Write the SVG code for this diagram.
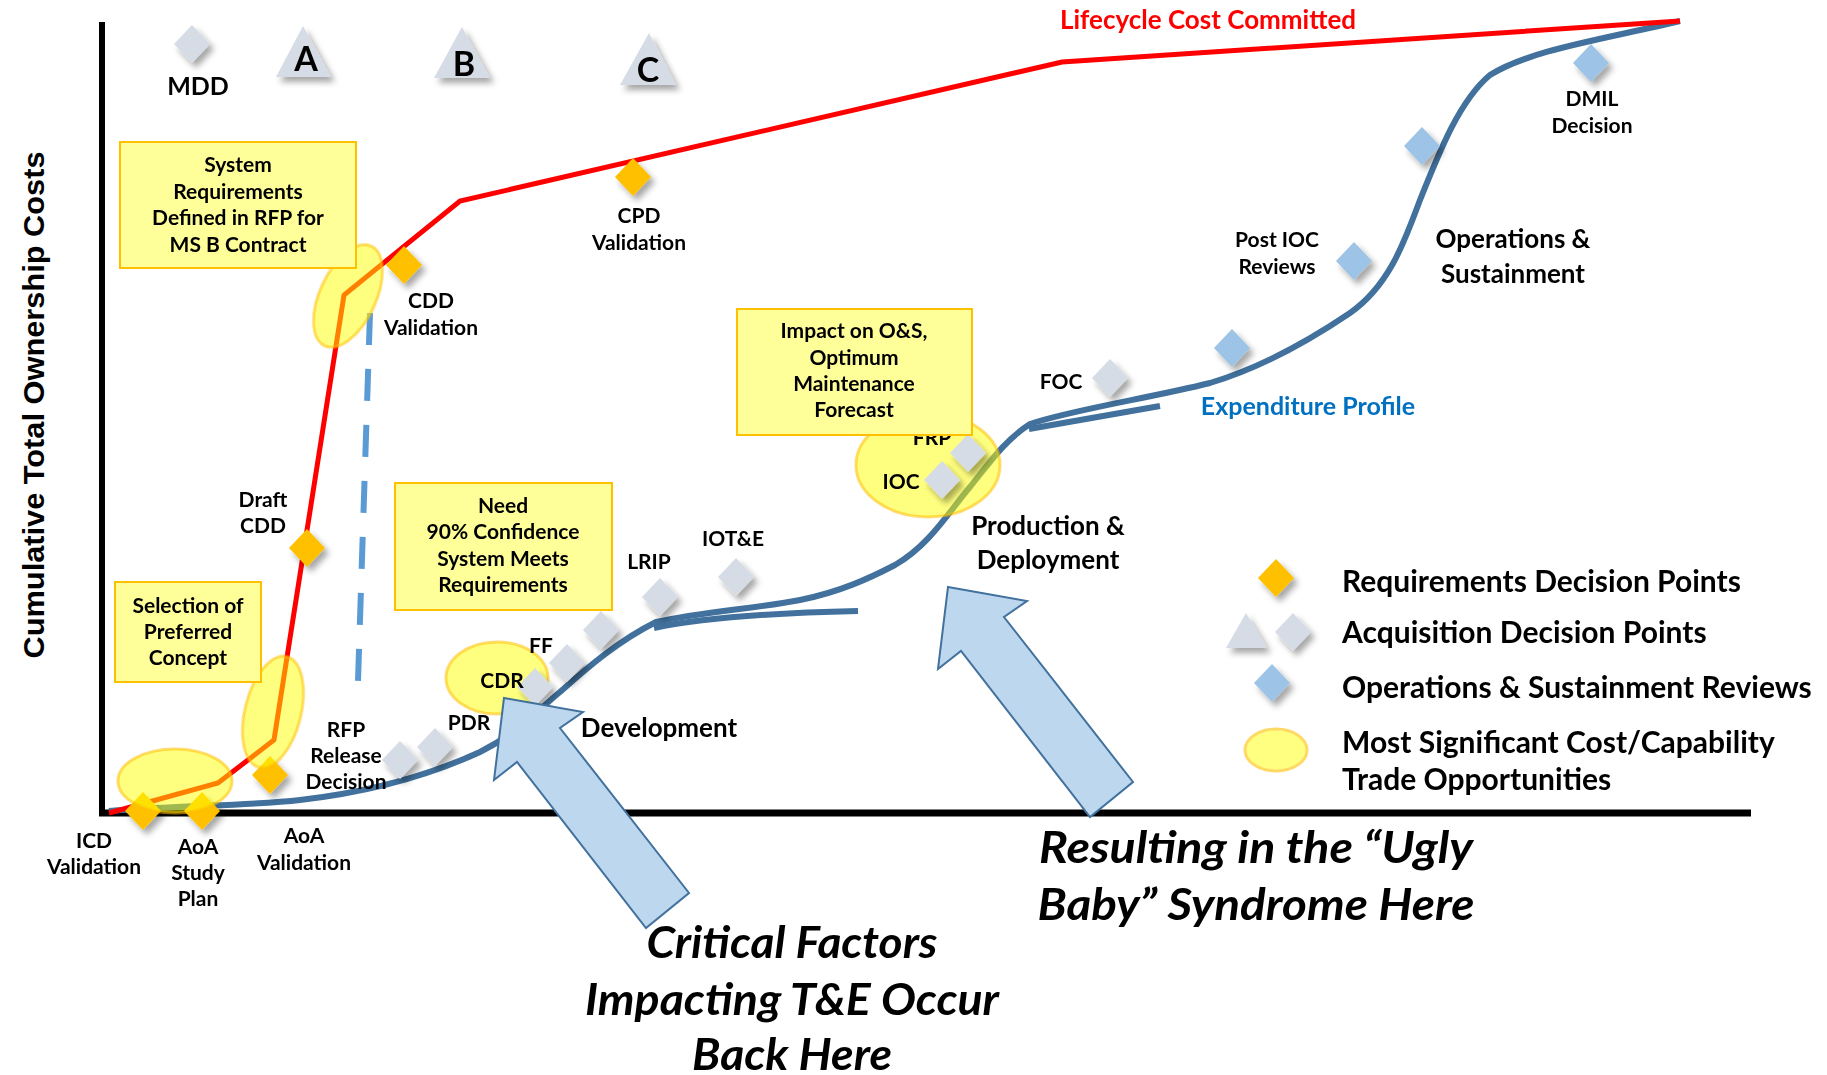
<svg xmlns="http://www.w3.org/2000/svg" width="1827" height="1075" viewBox="0 0 1827 1075">
<style>
.t{font-family:Lato,"Liberation Sans",sans-serif;font-weight:bold;fill:#000;text-anchor:middle}
.s{font-size:21px}
.m{font-size:26px}
.lg{font-size:30px;text-anchor:start}
.big{font-size:44px;font-style:italic}
.box{fill:#FFFF99;stroke:#FFC000;stroke-width:2}
.ell{fill:#FFFF00;fill-opacity:0.5;stroke:#FFC000;stroke-opacity:0.55;stroke-width:3}
.req{fill:#FFC000}
.acq{fill:#D6DCE5}
.os{fill:#9DC3E6}
.arrow{fill:#BDD7EE;stroke:#41719C;stroke-width:2;stroke-linejoin:miter}
.blue{fill:none;stroke:#41719C;stroke-width:6}
</style>
<defs>
<filter id="sh" x="-50%" y="-50%" width="220%" height="220%">
<feDropShadow dx="4" dy="5" stdDeviation="3" flood-color="#000" flood-opacity="0.35"/>
</filter>
<path id="dia" d="M0,-19 L18,0 L0,19 L-18,0 Z"/>
<polygon id="arw" points="504,698 583,712 560,728 689,893 646,928 517,762 494,780"/>
</defs>
<rect width="1827" height="1075" fill="#fff"/>

<g id="axes">
<line x1="102" y1="22" x2="102" y2="816" stroke="#000" stroke-width="6"/>
<line x1="99" y1="813" x2="1751" y2="813" stroke="#000" stroke-width="7"/>
<text transform="translate(44,405) rotate(-90)" style="font-family:'Liberation Sans',Arial,sans-serif;font-weight:bold;font-size:30px;text-anchor:middle" textLength="507" lengthAdjust="spacingAndGlyphs">Cumulative Total Ownership Costs</text>
</g>

<g id="connectors">
<path id="expenditure" class="blue" d="M109,811 C180,805 250,806 300,800 C370,792 430,775 480,752 C520,732 540,708 560,692 C590,665 620,640 656,622 C700,612 760,608 800,600 C840,592 870,578 895,565 C930,545 950,510 970,487 C990,462 1005,440 1030,424 C1070,410 1150,398 1210,383 C1260,368 1310,340 1350,313 C1390,285 1405,240 1420,200 C1440,150 1460,100 1490,75 C1530,50 1600,40 1680,21"/>
<path class="blue" d="M654,628 Q720,614 858,611"/>
<path class="blue" d="M1029,429 L1160,406"/>
<polyline id="lifecycle" fill="none" stroke="#FF0000" stroke-width="5" stroke-linejoin="miter" points="109,813 218,783 274,740 344,295 460,201 1062,62 1680,21"/>
<line id="dashed" x1="370" y1="313" x2="358" y2="681" stroke="#5B9BD5" stroke-width="6" stroke-dasharray="32 24"/>
</g>

<g id="opp-cdr"><ellipse class="ell" cx="497" cy="678" rx="51" ry="36"/></g>
<g id="opp-frp"><ellipse class="ell" cx="928" cy="465" rx="72" ry="52"/></g>

<g id="req-points" filter="url(#sh)">
<use href="#dia" class="req" x="143" y="811"/>
<use href="#dia" class="req" x="202" y="811"/>
<use href="#dia" class="req" x="270" y="775"/>
<use href="#dia" class="req" x="307" y="548"/>
<use href="#dia" class="req" x="404" y="265"/>
<use href="#dia" class="req" x="633" y="177"/>
</g>

<g id="opp-early">
<ellipse class="ell" cx="175" cy="781" rx="57" ry="32"/>
<ellipse class="ell" cx="273" cy="712" rx="28" ry="57" transform="rotate(14 273 712)"/>
<ellipse class="ell" cx="348" cy="296" rx="28" ry="55" transform="rotate(25 348 296)"/>
</g>

<g id="acq-points" filter="url(#sh)">
<use href="#dia" class="acq" x="192" y="44"/>
<polygon class="acq" points="303,26 276,77 331,77"/>
<polygon class="acq" points="462,27 434,78 490,78"/>
<polygon class="acq" points="649,33 620,85 676,85"/>
<use href="#dia" class="acq" x="400" y="760"/>
<use href="#dia" class="acq" x="435" y="747"/>
<use href="#dia" class="acq" x="535" y="687"/>
<use href="#dia" class="acq" x="567" y="663"/>
<use href="#dia" class="acq" x="601" y="630"/>
<use href="#dia" class="acq" x="660" y="597"/>
<use href="#dia" class="acq" x="736" y="577"/>
<use href="#dia" class="acq" x="968" y="453"/>
<use href="#dia" class="acq" x="942" y="480"/>
<use href="#dia" class="acq" x="1110" y="378"/>
</g>

<g id="os-points" filter="url(#sh)">
<use href="#dia" class="os" x="1232" y="348"/>
<use href="#dia" class="os" x="1354" y="261"/>
<use href="#dia" class="os" x="1422" y="146"/>
<use href="#dia" class="os" x="1591" y="63"/>
</g>

<g id="milestone-labels">
<text class="t" x="198" y="95" style="font-size:25px">MDD</text>
<text class="t" x="306" y="71" style="font-size:34px">A</text>
<text class="t" x="464" y="76" style="font-size:34px">B</text>
<text class="t" x="648" y="82" style="font-size:34px">C</text>
<text class="t" x="1208" y="29" style="font-size:26px;fill:#FF0000">Lifecycle Cost Committed</text>
<text class="t s" x="431" y="308">CDD</text>
<text class="t s" x="431" y="335">Validation</text>
<text class="t s" x="639" y="223">CPD</text>
<text class="t s" x="639" y="250">Validation</text>
<text class="t s" x="263" y="507">Draft</text>
<text class="t s" x="263" y="533">CDD</text>
<text class="t s" x="346" y="737">RFP</text>
<text class="t s" x="346" y="763">Release</text>
<text class="t s" x="346" y="789">Decision</text>
<text class="t s" x="469" y="730">PDR</text>
<text class="t s" x="502" y="688">CDR</text>
<text class="t s" x="541" y="653">FF</text>
<text class="t s" x="649" y="569">LRIP</text>
<text class="t s" x="733" y="546">IOT&amp;E</text>
<text class="t s" x="94" y="848">ICD</text>
<text class="t s" x="94" y="874">Validation</text>
<text class="t s" x="198" y="854">AoA</text>
<text class="t s" x="198" y="880">Study</text>
<text class="t s" x="198" y="906">Plan</text>
<text class="t s" x="304" y="843">AoA</text>
<text class="t s" x="304" y="870">Validation</text>
<text class="t s" x="932" y="445">FRP</text>
<text class="t s" x="901" y="489">IOC</text>
<text class="t s" x="1061" y="389">FOC</text>
<text class="t s" x="1277" y="247">Post IOC</text>
<text class="t s" x="1277" y="274">Reviews</text>
<text class="t s" x="1592" y="106">DMIL</text>
<text class="t s" x="1592" y="133">Decision</text>
<text class="t m" x="659" y="737">Development</text>
<text class="t m" x="1048" y="535">Production &amp;</text>
<text class="t m" x="1048" y="569">Deployment</text>
<text class="t m" x="1513" y="248">Operations &amp;</text>
<text class="t m" x="1513" y="283">Sustainment</text>
<text class="t" x="1308" y="415" style="font-size:25px;fill:#0070C0">Expenditure Profile</text>
</g>

<g id="box-sysreq">
<rect class="box" x="120" y="142" width="236" height="126"/>
<text class="t s" x="238" y="172">System</text>
<text class="t s" x="238" y="199">Requirements</text>
<text class="t s" x="238" y="225">Defined in RFP for</text>
<text class="t s" x="238" y="252">MS B Contract</text>
</g>
<g id="box-selection">
<rect class="box" x="115" y="582" width="146" height="100"/>
<text class="t s" x="188" y="613">Selection of</text>
<text class="t s" x="188" y="639">Preferred</text>
<text class="t s" x="188" y="665">Concept</text>
</g>
<g id="box-need">
<rect class="box" x="395" y="483" width="217" height="127"/>
<text class="t s" x="503" y="513">Need</text>
<text class="t s" x="503" y="539">90% Confidence</text>
<text class="t s" x="503" y="566">System Meets</text>
<text class="t s" x="503" y="592">Requirements</text>
</g>
<g id="box-impact">
<rect class="box" x="737" y="309" width="235" height="126"/>
<text class="t s" x="854" y="338">Impact on O&amp;S,</text>
<text class="t s" x="854" y="365">Optimum</text>
<text class="t s" x="854" y="391">Maintenance</text>
<text class="t s" x="854" y="417">Forecast</text>
</g>

<g id="arrow-critical"><use href="#arw" class="arrow"/></g>
<g id="arrow-resulting"><use href="#arw" class="arrow" transform="translate(444,-111)"/></g>

<g id="callout-critical">
<text class="t big" x="792" y="958" textLength="291" lengthAdjust="spacingAndGlyphs">Critical Factors</text>
<text class="t big" x="792" y="1015" textLength="414" lengthAdjust="spacingAndGlyphs">Impacting T&amp;E Occur</text>
<text class="t big" x="792" y="1070" textLength="200" lengthAdjust="spacingAndGlyphs">Back Here</text>
</g>
<g id="callout-resulting">
<text class="t big" x="1256" y="863" textLength="434" lengthAdjust="spacingAndGlyphs">Resulting in the “Ugly</text>
<text class="t big" x="1256" y="920" textLength="437" lengthAdjust="spacingAndGlyphs">Baby” Syndrome Here</text>
</g>

<g id="legend">
<g filter="url(#sh)">
<use href="#dia" class="req" x="1276" y="578"/>
<polygon class="acq" points="1246,613 1226,648 1267,648"/>
<use href="#dia" class="acq" x="1293" y="632"/>
<use href="#dia" class="os" x="1272" y="683"/>
</g>
<ellipse cx="1276" cy="750" rx="31" ry="21" fill="#FFFF80" stroke="#FFD966" stroke-width="3"/>
<text class="t lg" x="1342" y="592">Requirements Decision Points</text>
<text class="t lg" x="1342" y="643">Acquisition Decision Points</text>
<text class="t lg" x="1342" y="698">Operations &amp; Sustainment Reviews</text>
<text class="t lg" x="1342" y="753">Most Significant Cost/Capability</text>
<text class="t lg" x="1342" y="790">Trade Opportunities</text>
</g>
</svg>
